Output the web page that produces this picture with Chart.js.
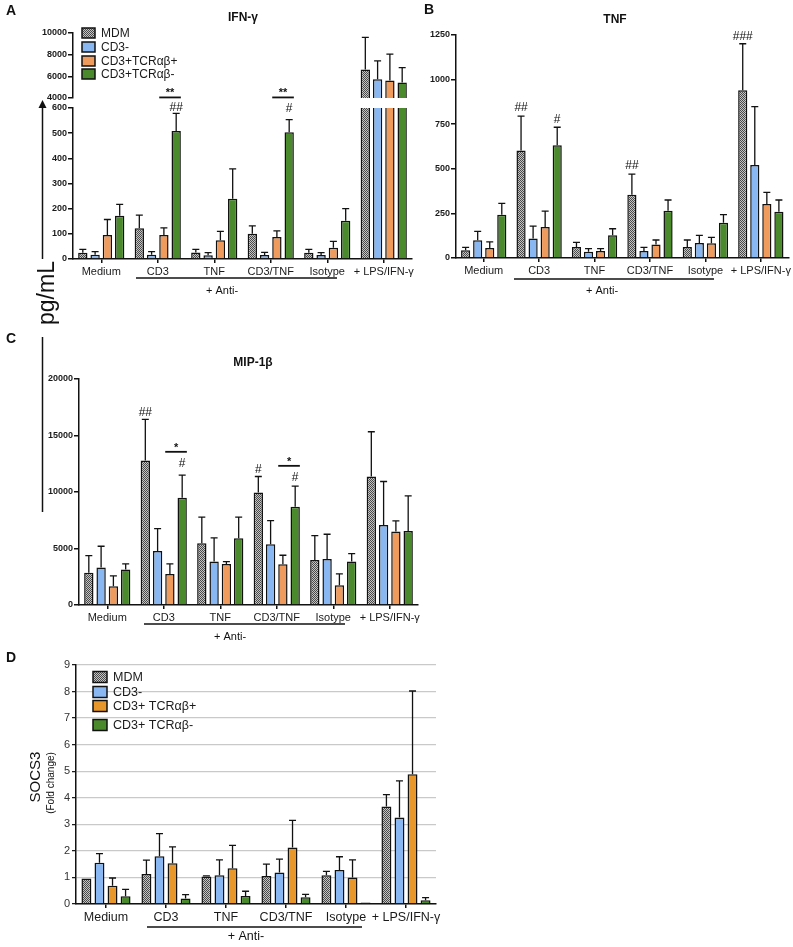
<!DOCTYPE html>
<html>
<head>
<meta charset="utf-8">
<script src="https://cdn.jsdelivr.net/npm/chart.js@4"></script>
<style>
  body { margin: 0; background: #fff; width: 793px; height: 947px; position: relative; overflow: hidden; }
  canvas { position: absolute; left: 0; top: 0; }
</style>
</head>
<body>
<canvas id="ifnTop" width="793" height="947"></canvas>
<canvas id="ifnLow" width="793" height="947"></canvas>
<canvas id="tnf" width="793" height="947"></canvas>
<canvas id="mip" width="793" height="947"></canvas>
<canvas id="socs" width="793" height="947"></canvas>
<script>
const groups = ['Medium', 'CD3', 'TNF', 'CD3/TNF', 'Isotype', '+ LPS/IFN-γ'];
const namesABC = ['MDM', 'CD3-', 'CD3+TCRαβ+', 'CD3+TCRαβ-'];
const namesD = ['MDM', 'CD3-', 'CD3+ TCRαβ+', 'CD3+ TCRαβ-'];

// IFN-gamma (pg/mL), mean and SD
const ifnMDM = [25, 122, 26, 100, 25, 6630];
const ifnCD3neg = [17, 17, 15, 16, 16, 5730];
const ifnAbPos = [95, 95, 75, 87, 45, 5610];
const ifnAbNeg = [172, 509, 239, 504, 152, 5420];
const ifnMDMsd = [13, 52, 12, 32, 13, 2970];
const ifnCD3negSd = [12, 12, 10, 10, 9, 1700];
const ifnAbPosSd = [62, 29, 35, 25, 25, 2440];
const ifnAbNegSd = [45, 70, 119, 50, 48, 1390];

// TNF (pg/mL)
const tnfMDM = [43, 603, 62, 354, 62, 940];
const tnfCD3neg = [99, 110, 35, 39, 84, 522];
const tnfAbPos = [56, 174, 39, 76, 82, 302];
const tnfAbNeg = [243, 632, 127, 265, 198, 259];
const tnfMDMsd = [17, 192, 26, 116, 39, 261];
const tnfCD3negSd = [50, 69, 17, 21, 43, 327];
const tnfAbPosSd = [34, 89, 13, 25, 34, 66];
const tnfAbNegSd = [63, 101, 37, 60, 45, 66];

// MIP-1beta (pg/mL)
const mipMDM = [2865, 12790, 5465, 9955, 3988, 11373];
const mipCD3neg = [3308, 4785, 3840, 5376, 4076, 7090];
const mipAbPos = [1654, 2747, 3633, 3604, 1743, 6499];
const mipAbNeg = [3131, 9482, 5908, 8685, 3840, 6558];
const mipMDMsd = [1507, 3634, 2305, 1418, 2156, 3958];
const mipCD3negSd = [1891, 1980, 2097, 2098, 2186, 3840];
const mipAbPosSd = [916, 886, 207, 798, 1004, 945];
const mipAbNegSd = [502, 2009, 1862, 1831, 709, 3101];

// SOCS3 (fold change)
const socsMDM = [0.96, 1.13, 1.04, 1.05, 1.08, 3.67];
const socsCD3neg = [1.55, 1.80, 1.08, 1.19, 1.28, 3.26];
const socsAbPos = [0.69, 1.53, 1.35, 2.13, 1.00, 4.89];
const socsAbNeg = [0.29, 0.21, 0.30, 0.25, 0.06, 0.14];
const socsMDMsd = [0, 0.52, 0.02, 0.45, 0.15, 0.45];
const socsCD3negSd = [0.35, 0.85, 0.58, 0.50, 0.50, 1.38];
const socsAbPosSd = [0.29, 0.62, 0.86, 1.02, 0.66, 3.13];
const socsAbNegSd = [0.26, 0.14, 0.18, 0.11, 0, 0.10];

// significance marks: [group, series, text, value]
const ifnHash = [[1, 3, '##', 603], [3, 3, '#', 599]];
const ifnStars = [[1, 2, 3, '**', 642], [3, 2, 3, '**', 642]];
const tnfHash = [[1, 0, '##', 841], [1, 3, '#', 774], [3, 0, '##', 517], [5, 0, '###', 1239]];
const mipHash = [[1, 0, '##', 17010], [1, 3, '#', 12490], [3, 0, '#', 11960], [3, 3, '#', 11250]];
const mipStars = [[1, 2, 3, '*', 13556], [3, 2, 3, '*', 12315]];

const W = 793, H = 947;
const FONT = "'Liberation Sans', Arial, Helvetica, sans-serif";
Chart.defaults.font.family = FONT;

function checker() {
  const c = document.createElement('canvas');
  c.width = c.height = 2;
  const g = c.getContext('2d');
  g.fillStyle = '#c4c4c4'; g.fillRect(0, 0, 2, 2);
  g.fillStyle = '#4a4a4a'; g.fillRect(0, 0, 1, 1); g.fillRect(1, 1, 1, 1);
  return g.createPattern(c, 'repeat');
}
const gray = checker();
const colorsABC = [gray, '#88b7f2', '#ef9b5e', '#4a8a2c'];
const colorsD = [gray, '#88b7f2', '#e8972b', '#4a8a2c'];

function sets(vals, sds, names, colors) {
  return vals.map((v, i) => ({
    label: names[i], data: v, sd: sds[i],
    backgroundColor: colors[i], borderColor: '#111', borderWidth: 1.5,
    borderSkipped: 'start', clip: 0,
    categoryPercentage: 0.87, barPercentage: 0.76
  }));
}

const errorBars = {
  id: 'errorBars',
  afterDatasetsDraw(chart) {
    const ctx = chart.ctx, ys = chart.scales.y;
    ctx.save();
    ctx.strokeStyle = '#111';
    ctx.lineWidth = 1.3;
    chart.data.datasets.forEach((ds, i) => {
      chart.getDatasetMeta(i).data.forEach((bar, j) => {
        const v = ds.data[j], sd = ds.sd[j];
        if (!sd || v < ys.min || v > ys.max) return;
        const top = ys.getPixelForValue(v + sd);
        ctx.beginPath();
        ctx.moveTo(bar.x, bar.y); ctx.lineTo(bar.x, top);
        ctx.moveTo(bar.x - 3.5, top); ctx.lineTo(bar.x + 3.5, top);
        ctx.stroke();
      });
    });
    ctx.restore();
  }
};

function sig(hashes, stars) {
  return {
    id: 'sig',
    afterDraw(chart) {
      const ctx = chart.ctx, ys = chart.scales.y;
      ctx.save();
      ctx.fillStyle = '#111'; ctx.strokeStyle = '#111'; ctx.textAlign = 'center';
      hashes.forEach(([g, s, txt, v]) => {
        const b = chart.getDatasetMeta(s).data[g];
        ctx.font = '12px ' + FONT; ctx.textBaseline = 'middle';
        ctx.fillText(txt, b.x, ys.getPixelForValue(v));
      });
      stars.forEach(([g, s1, s2, txt, v]) => {
        const a = chart.getDatasetMeta(s1).data[g], c = chart.getDatasetMeta(s2).data[g];
        const yy = ys.getPixelForValue(v);
        ctx.lineWidth = 1.8;
        ctx.beginPath(); ctx.moveTo(a.x - a.width / 2, yy); ctx.lineTo(c.x + c.width / 2, yy); ctx.stroke();
        ctx.font = 'bold 11px ' + FONT; ctx.textBaseline = 'alphabetic';
        ctx.fillText(txt, (a.x + c.x) / 2, yy - 1);
      });
      ctx.restore();
    }
  };
}

function boxLegend(x, ys, w, h, font) {
  return {
    id: 'boxLegend',
    afterDraw(chart) {
      const ctx = chart.ctx;
      ctx.save();
      chart.data.datasets.forEach((ds, i) => {
        const yc = ys[i];
        ctx.fillStyle = ds.backgroundColor;
        ctx.fillRect(x, yc - h / 2, w, h);
        ctx.strokeStyle = '#111'; ctx.lineWidth = 1.5;
        ctx.strokeRect(x, yc - h / 2, w, h);
        ctx.fillStyle = '#1a1a1a'; ctx.font = font;
        ctx.textAlign = 'left'; ctx.textBaseline = 'middle';
        ctx.fillText(ds.label, x + w + 6, yc + 0.5);
      });
      ctx.restore();
    }
  };
}

// texts: [text, x, y, font, rotate]; lines: [x1, y1, x2, y2, width]
function deco(texts, lines, arrow) {
  return {
    id: 'deco',
    afterDraw(chart) {
      const ctx = chart.ctx;
      ctx.save();
      ctx.strokeStyle = '#111'; ctx.fillStyle = '#111';
      lines.forEach(([x1, y1, x2, y2, w]) => {
        ctx.lineWidth = w;
        ctx.beginPath(); ctx.moveTo(x1, y1); ctx.lineTo(x2, y2); ctx.stroke();
      });
      if (arrow) {
        ctx.beginPath();
        ctx.moveTo(arrow[0], arrow[1]);
        ctx.lineTo(arrow[0] - 4, arrow[1] + 8);
        ctx.lineTo(arrow[0] + 4, arrow[1] + 8);
        ctx.closePath(); ctx.fill();
      }
      texts.forEach(([t, x, y, font, rot]) => {
        ctx.save();
        ctx.translate(x, y);
        if (rot) ctx.rotate(rot);
        ctx.font = font; ctx.textAlign = 'center'; ctx.textBaseline = 'middle';
        ctx.fillText(t, 0, 0);
        ctx.restore();
      });
      ctx.restore();
    }
  };
}

function yAxis(min, max, step) {
  return {
    min: min, max: max,
    border: { color: '#111', width: 1.5 },
    grid: { drawOnChartArea: false, tickLength: 5, color: '#111', lineWidth: 1.5 },
    ticks: { stepSize: step, padding: 1, color: '#1a1a1a', font: { size: 9, weight: 'bold' },
             callback: v => String(v) }
  };
}

function makeBars(id, area, datasets, y, xOn, xFont, extras) {
  const [l, t, r, b] = area;
  const xh = xOn ? 24 : 0;
  return new Chart(document.getElementById(id), {
    type: 'bar',
    data: { labels: groups, datasets: datasets },
    options: {
      responsive: false, animation: false, events: [],
      layout: { padding: { left: l - 50, top: t, right: W - r, bottom: H - b - xh } },
      plugins: { legend: { display: false }, tooltip: { enabled: false } },
      scales: {
        x: {
          display: xOn, offset: true,
          afterFit: s => { s.height = xh; },
          border: { color: '#111', width: 1.5 },
          grid: { offset: false, drawOnChartArea: false, tickLength: 4, color: '#111', lineWidth: 1.5 },
          ticks: { autoSkip: false, maxRotation: 0, minRotation: 0, padding: 2, color: '#1a1a1a', font: { size: xFont } }
        },
        y: Object.assign({ afterFit: s => { s.width = 50; } }, y)
      }
    },
    plugins: [errorBars].concat(extras)
  });
}

const bold13 = 'bold 14px ' + FONT;
const title12 = 'bold 12px ' + FONT;
const lab11 = '11px ' + FONT;

// A: IFN-gamma, broken axis (upper and lower segments)
const ifnVals = [ifnMDM, ifnCD3neg, ifnAbPos, ifnAbNeg];
const ifnSds = [ifnMDMsd, ifnCD3negSd, ifnAbPosSd, ifnAbNegSd];
makeBars('ifnTop', [73, 33, 412, 98], sets(ifnVals, ifnSds, namesABC, colorsABC),
  yAxis(4000, 10000, 2000), false, 11, [boxLegend(82, [33, 47, 61, 74], 13, 10, '12px ' + FONT)]);
makeBars('ifnLow', [73, 108, 412, 259], sets(ifnVals, ifnSds, namesABC, colorsABC),
  yAxis(0, 600, 100), true, 11, [sig(ifnHash, ifnStars), deco(
    [['A', 11, 11, bold13], ['IFN-γ', 243, 18, title12], ['+ Anti-', 222, 291, lab11],
     ['pg/mL', 48, 293, '23px ' + FONT, -Math.PI / 2]],
    [[136, 278, 337, 278, 1.5], [42.5, 106, 42.5, 259, 1.5], [42.5, 337, 42.5, 512, 1.5]],
    [42.5, 100])]);

// B: TNF
makeBars('tnf', [456, 35, 792, 258],
  sets([tnfMDM, tnfCD3neg, tnfAbPos, tnfAbNeg], [tnfMDMsd, tnfCD3negSd, tnfAbPosSd, tnfAbNegSd], namesABC, colorsABC),
  yAxis(0, 1250, 250), true, 11, [sig(tnfHash, []), deco(
    [['B', 429, 10, bold13], ['TNF', 615, 20, title12], ['+ Anti-', 602, 291, lab11]],
    [[514, 279, 714, 279, 1.5]])]);

// C: MIP-1beta
makeBars('mip', [79, 379, 418, 605],
  sets([mipMDM, mipCD3neg, mipAbPos, mipAbNeg], [mipMDMsd, mipCD3negSd, mipAbPosSd, mipAbNegSd], namesABC, colorsABC),
  yAxis(0, 20000, 5000), true, 11, [sig(mipHash, mipStars), deco(
    [['C', 11, 339, bold13], ['MIP-1β', 253, 363, title12], ['+ Anti-', 230, 637, lab11]],
    [[144, 624, 345, 624, 1.5]])]);

// D: SOCS3
makeBars('socs', [76, 665, 436, 904],
  sets([socsMDM, socsCD3neg, socsAbPos, socsAbNeg], [socsMDMsd, socsCD3negSd, socsAbPosSd, socsAbNegSd], namesD, colorsD),
  {
    min: 0, max: 9,
    border: { color: '#111', width: 1.5 },
    grid: { color: '#c9c9c9', lineWidth: 1.3, tickLength: 4, tickColor: '#111', tickWidth: 1.2 },
    ticks: { stepSize: 1, padding: 2, color: '#333', font: { size: 11 } }
  }, true, 12.5, [boxLegend(93, [677, 692, 706, 725], 14, 11, '12.5px ' + FONT), deco(
    [['D', 11, 658, bold13], ['SOCS3', 36, 777, '15px ' + FONT, -Math.PI / 2],
     ['(Fold change)', 51, 783, '10px ' + FONT, -Math.PI / 2], ['+ Anti-', 246, 937, '12.5px ' + FONT]],
    [[147, 927, 362, 927, 1.5]])]);
</script>
</body>
</html>
